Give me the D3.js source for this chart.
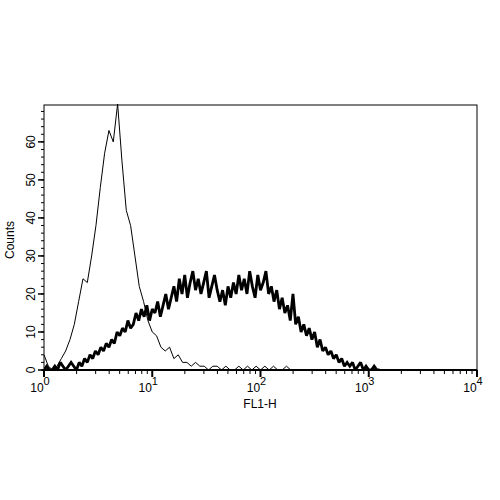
<!DOCTYPE html>
<html lang="en">
<head>
<meta charset="UTF-8">
<title>FL1-H histogram</title>
<script src="https://d3js.org/d3.v7.min.js"></script>
<style>
  body { margin: 0; background: white; font-family: "Liberation Sans", Arial, sans-serif; }
  text { font-family: "Liberation Sans", Arial, sans-serif; }
</style>
</head>
<body>
<svg width="500" height="500"></svg>
<script>
// control histogram, channels every 0.04 decades starting at 10^0
const controlStep = 0.04;
const controlCounts = [4,1,0,1,3,5,8,12,18,24,23,30,38,48,57,63,60,70,55,42,38,30,22,18,13,10,9,6,5,6,3,4,2,2,1,2,1,1,0,1,1,0,1,0,0,1,0,1,0,1,0,1,0,1,0,0,1,0,0,0,0];

// stained sample, channels every 0.025 decades
const sampleStep = 0.025;
const sampleCounts = [0,1,0,0,1,0,2,1,0,
  1,2,1,0,2,1,3,2,
  4,3,5,4,6,5,7,6,
  8,7,10,9,11,10,13,11,
  12,15,13,16,14,17,13,16,
  15,18,14,17,20,16,19,22,
  18,24,20,25,19,23,26,21,
  24,20,23,26,19,22,25,21,
  18,21,17,22,19,23,20,25,
  21,24,20,26,22,19,25,21,
  23,26,20,22,18,21,16,19,
  15,17,13,20,12,14,10,12,
  9,11,8,10,6,8,5,6,
  4,5,3,4,2,3,1,2,
  1,2,0,1,2,0,1,0,
  0,1,0,0];

const xDecades = [0, 1, 2, 3, 4];
const yTicks = [0, 10, 20, 30, 40, 50, 60];

const svg = d3.select("svg");
const plotLeft = 44, plotRight = 477, plotTop = 105, plotBottom = 370;

const x = d3.scaleLog().domain([1, 10000]).range([plotLeft, plotRight]);
const y = d3.scaleLinear().domain([0, 69.7]).range([plotBottom, plotTop]);

function toPoints(counts, step) {
  return counts.map((c, i) => [Math.pow(10, i * step), c]);
}

const line = d3.line()
  .x(d => x(d[0]))
  .y(d => y(d[1]));

svg.append("clipPath").attr("id", "plot")
  .append("rect").attr("x", plotLeft).attr("y", plotTop - 1)
  .attr("width", plotRight - plotLeft).attr("height", plotBottom - plotTop + 1);

const plot = svg.append("g").attr("clip-path", "url(#plot)");

plot.append("path")
  .datum(toPoints(sampleCounts, sampleStep))
  .attr("fill", "none").attr("stroke", "black").attr("stroke-width", 2.8)
  .attr("stroke-linejoin", "miter").attr("stroke-miterlimit", 2)
  .attr("d", line);

plot.append("path")
  .datum(toPoints(controlCounts, controlStep))
  .attr("fill", "none").attr("stroke", "black").attr("stroke-width", 1)
  .attr("d", line);

// frame
svg.append("rect")
  .attr("x", plotLeft).attr("y", plotTop)
  .attr("width", plotRight - plotLeft).attr("height", plotBottom - plotTop)
  .attr("fill", "none").attr("stroke", "black").attr("stroke-width", 1);
svg.append("line").attr("x1", plotLeft - 2).attr("x2", plotRight).attr("y1", plotBottom).attr("y2", plotBottom)
  .attr("stroke", "black").attr("stroke-width", 2);

// x axis ticks
const minor = [];
for (let d = 0; d < 4; d++) for (let m = 2; m <= 9; m++) minor.push(m * Math.pow(10, d));
svg.append("g").selectAll("line").data(minor).enter().append("line")
  .attr("x1", d => x(d)).attr("x2", d => x(d))
  .attr("y1", plotBottom).attr("y2", plotBottom + 4)
  .attr("stroke", "black");
svg.append("g").selectAll("line").data(xDecades).enter().append("line")
  .attr("x1", d => x(Math.pow(10, d))).attr("x2", d => x(Math.pow(10, d)))
  .attr("y1", plotBottom).attr("y2", plotBottom + 7)
  .attr("stroke", "black").attr("stroke-width", 2);

const xl = svg.append("g").selectAll("text").data(xDecades).enter().append("text")
  .attr("x", d => x(Math.pow(10, d)) - 4)
  .attr("y", plotBottom + 22)
  .attr("text-anchor", "middle")
  .attr("font-size", 12);
xl.append("tspan").text("10");
xl.append("tspan").attr("dy", -7).attr("font-size", 11).text(d => d);

svg.append("text")
  .attr("x", 260).attr("y", plotBottom + 38)
  .attr("text-anchor", "middle").attr("font-size", 12)
  .text("FL1-H");

// y axis ticks
const yMinor = d3.range(0, 70, 2);
svg.append("g").selectAll("line").data(yMinor).enter().append("line")
  .attr("x1", plotLeft - 3).attr("x2", plotLeft)
  .attr("y1", d => y(d)).attr("y2", d => y(d))
  .attr("stroke", "black");
svg.append("g").selectAll("line").data(yTicks).enter().append("line")
  .attr("x1", plotLeft - 6).attr("x2", plotLeft)
  .attr("y1", d => y(d)).attr("y2", d => y(d))
  .attr("stroke", "black").attr("stroke-width", 1.5);

svg.append("g").selectAll("text").data(yTicks).enter().append("text")
  .attr("transform", d => `translate(${plotLeft - 9},${y(d)}) rotate(-90)`)
  .attr("text-anchor", "middle")
  .attr("font-size", 12)
  .text(d => d);

svg.append("text")
  .attr("transform", `translate(14,240) rotate(-90)`)
  .attr("text-anchor", "middle").attr("font-size", 12)
  .text("Counts");
</script>
</body>
</html>
